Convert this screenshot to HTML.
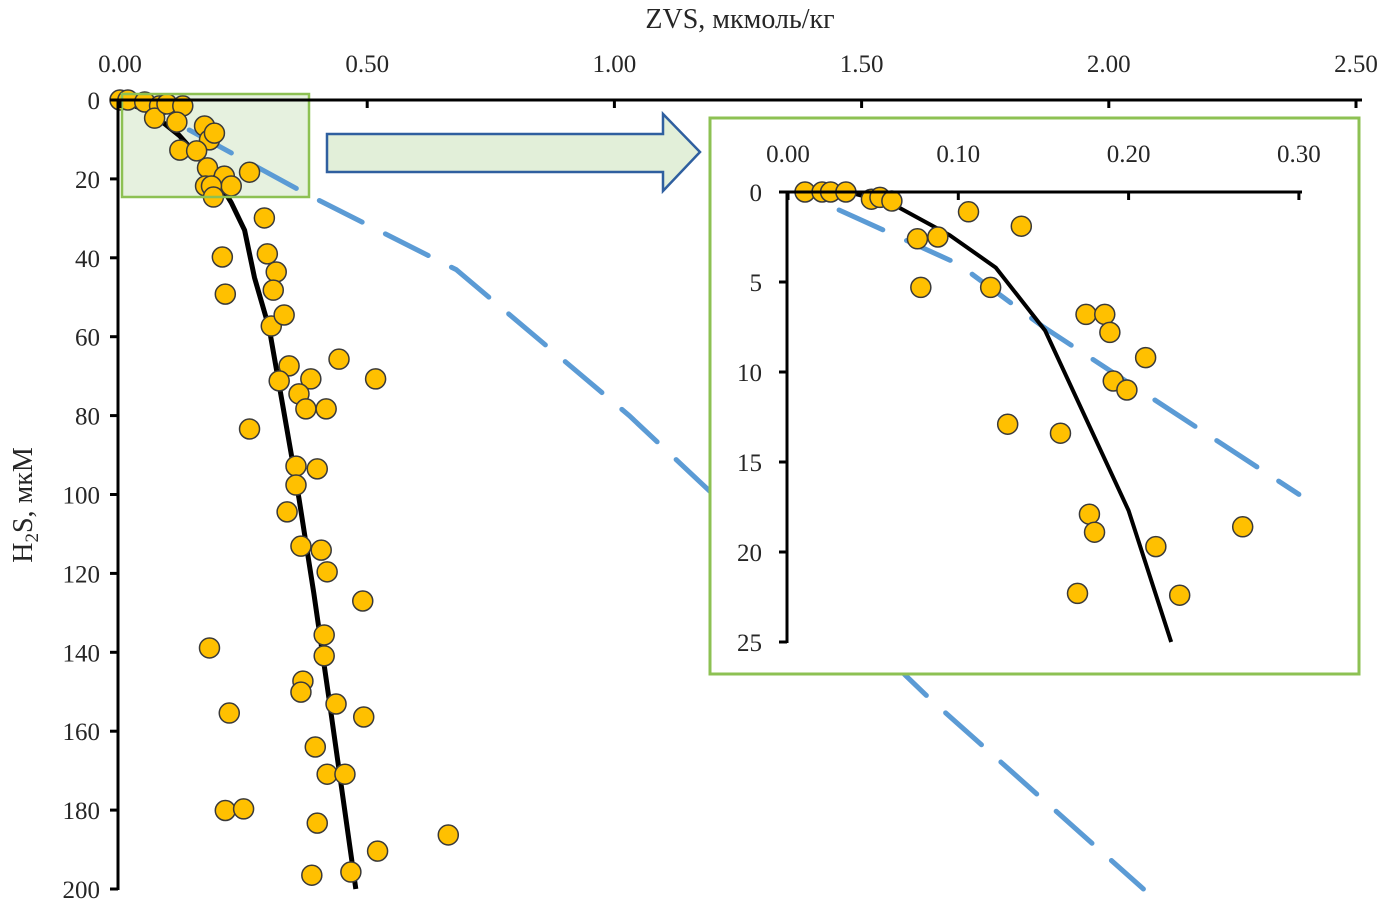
<!DOCTYPE html>
<html><head><meta charset="utf-8">
<style>
html,body{margin:0;padding:0;background:#fff;}
svg text{font-family:"Liberation Serif",serif;fill:#262626;}
</style></head>
<body>
<svg id="chart" width="1397" height="914" viewBox="0 0 1397 914" xmlns="http://www.w3.org/2000/svg">
<g id="main"></g>
<g id="inset"></g>
</svg>
<script>
// Main chart data
const mainTicksX = [0, 0.5, 1.0, 1.5, 2.0, 2.5];
const mainTickLabelsX = ["0.00","0.50","1.00","1.50","2.00","2.50"];
const mainTicksY = [0,20,40,60,80,100,120,140,160,180,200];
const mainPtsX = [0,0.016,0.05,0.08,0.07,0.095,0.127,0.115,0.171,0.181,0.191,0.121,0.155,0.177,0.211,0.173,0.225,0.262,0.185,0.189,0.292,0.207,0.298,0.316,0.31,0.213,0.306,0.332,0.342,0.443,0.517,0.322,0.386,0.362,0.376,0.417,0.262,0.356,0.399,0.356,0.338,0.366,0.407,0.419,0.491,0.413,0.413,0.37,0.366,0.437,0.493,0.181,0.221,0.395,0.419,0.455,0.213,0.25,0.399,0.664,0.521,0.388,0.467];
const mainPtsY = [0,0,0.5,1.5,4.6,1,1.5,5.6,6.6,10.1,8.4,12.7,12.9,17.2,19.3,21.8,21.8,18.3,21.8,24.6,29.9,39.8,39,43.6,48.2,49.2,57.3,54.5,67.4,65.7,70.7,71.2,70.7,74.5,78.3,78.3,83.4,92.8,93.5,97.6,104.4,113.1,114.1,119.6,127,135.6,140.9,147.3,150.1,153.1,156.4,138.9,155.4,164,170.9,170.9,180.1,179.7,183.3,186.3,190.4,196.5,195.7];
const mainFitX = [0,0.06,0.12,0.191,0.225,0.252,0.272,0.302,0.33,0.362,0.392,0.423,0.477];
const mainFitY = [0,3,9,19,26,33,45,58,78,101,125,152,200];
const mainDashX = [0.14,0.38,0.68,1.03,1.2,1.4,1.59,1.64,2.07];
const mainDashY = [7.6,24,43,80,100,122,146,152,200];
// Inset data
const insTicksX = [0,0.1,0.2,0.3];
const insTickLabelsX = ["0.00","0.10","0.20","0.30"];
const insTicksY = [0,5,10,15,20,25];
const insPtsX = [0.010,0.020,0.025,0.034,0.049,0.054,0.061,0.106,0.137,0.076,0.088,0.078,0.119,0.175,0.186,0.189,0.210,0.191,0.199,0.129,0.160,0.177,0.180,0.216,0.267,0.170,0.230];
const insPtsY = [0,0,0,0,0.4,0.3,0.5,1.1,1.9,2.6,2.5,5.3,5.3,6.8,6.8,7.8,9.2,10.5,11.0,12.9,13.4,17.9,18.9,19.7,18.6,22.3,22.4];
const insFitX = [0.035,0.06,0.095,0.122,0.151,0.2,0.225];
const insFitY = [0,0.6,2.4,4.2,7.7,17.7,25];
const insDashX = [0.03,0.1,0.15,0.3];
const insDashY = [1.0,4.0,7.5,16.8];

const NS="http://www.w3.org/2000/svg";
function mk(tag,attrs,parent){const e=document.createElementNS(NS,tag);for(const k in attrs)e.setAttribute(k,attrs[k]);parent.appendChild(e);return e;}

const mx=v=>120+v*494.4;
const my=v=>100+v*3.945;
const main=document.getElementById('main');

const hb=mk('rect',{x:122,y:94,width:187,height:103,fill:'#e2efd9','fill-opacity':0.85,stroke:'none'},main);



let d=mainDashX.map((v,i)=>(i?'L':'M')+mx(v)+' '+my(mainDashY[i])).join(' ');
const dl=mk('path',{d:d,fill:'none',stroke:'#5b9bd5','stroke-width':5,'stroke-dasharray':'48,26','stroke-linecap':'round'},main);


d=mainFitX.map((v,i)=>(i?'L':'M')+mx(v)+' '+my(mainFitY[i])).join(' ');
const fl=mk('path',{d:d,fill:'none',stroke:'#000','stroke-width':5,'stroke-linejoin':'round'},main);


mainPtsX.forEach((v,i)=>{const c=mk('circle',{cx:mx(v),cy:my(mainPtsY[i]),r:10,fill:'#ffc000',stroke:'#3a3a3a','stroke-width':1.5},main);

});

const hbb=mk('rect',{x:122,y:94,width:187,height:103,fill:'none',stroke:'#8dc153','stroke-width':2.5},main);



const xa=mk('line',{x1:118,y1:100,x2:1362,y2:100,stroke:'#000','stroke-width':3},main);


const ya=mk('line',{x1:118,y1:99,x2:118,y2:890,stroke:'#000','stroke-width':3},main);


mainTicksX.forEach((v,i)=>{
 mk('line',{x1:mx(v),y1:100,x2:mx(v),y2:108,stroke:'#000','stroke-width':3},main);
 const t=mk('text',{x:mx(v),y:72,'text-anchor':'middle','font-size':25},main);t.textContent=mainTickLabelsX[i];
 
 
});
mainTicksY.forEach(v=>{
 mk('line',{x1:110,y1:my(v),x2:118,y2:my(v),stroke:'#000','stroke-width':3},main);
 const t=mk('text',{x:100,y:my(v)+9,'text-anchor':'end','font-size':25},main);t.textContent=v;
 
 
});
const xt=mk('text',{x:740,y:28,'text-anchor':'middle','font-size':28},main);xt.textContent='ZVS, мкмоль/кг';


const yt=mk('text',{x:0,y:0,'text-anchor':'middle','font-size':28,transform:'translate(32,505) rotate(-90)'},main);
yt.innerHTML='H<tspan font-size="19" dy="6">2</tspan><tspan dy="-6">S, мкМ</tspan>';



const ar=mk('path',{d:'M327 134 L663 134 L663 114 L700 152 L663 191 L663 172 L327 172 Z',fill:'#e2efd9',stroke:'#2f5f9f','stroke-width':2.5},main);



const ins=document.getElementById('inset');
const ix=v=>788+v*1703;
const iy=v=>192+v*18;
const ib=mk('rect',{x:710,y:118,width:649,height:556,fill:'#fff',stroke:'#8dc153','stroke-width':3},ins);


mk('clipPath',{id:'ic'},ins);
mk('rect',{x:712,y:120,width:645,height:552},document.getElementById('ic'));
const g=mk('g',{'clip-path':'url(#ic)'},ins);
d=insDashX.map((v,i)=>(i?'L':'M')+ix(v)+' '+iy(insDashY[i])).join(' ');
const idl=mk('path',{d:d,fill:'none',stroke:'#5b9bd5','stroke-width':5,'stroke-dasharray':'48,26','stroke-linecap':'round'},g);


d=insFitX.map((v,i)=>(i?'L':'M')+ix(v)+' '+iy(insFitY[i])).join(' ');
const ifl=mk('path',{d:d,fill:'none',stroke:'#000','stroke-width':4,'stroke-linejoin':'round'},g);


insPtsX.forEach((v,i)=>{const c=mk('circle',{cx:ix(v),cy:iy(insPtsY[i]),r:10,fill:'#ffc000',stroke:'#3a3a3a','stroke-width':1.5},g);

});
const ixa=mk('line',{x1:786,y1:192,x2:1302,y2:192,stroke:'#000','stroke-width':3},ins);


const iya=mk('line',{x1:787,y1:191,x2:787,y2:643,stroke:'#000','stroke-width':3},ins);


insTicksX.forEach((v,i)=>{
 mk('line',{x1:ix(v),y1:192,x2:ix(v),y2:200,stroke:'#000','stroke-width':3},ins);
 const t=mk('text',{x:ix(v),y:162,'text-anchor':'middle','font-size':25},ins);t.textContent=insTickLabelsX[i];
 
 
});
insTicksY.forEach(v=>{
 mk('line',{x1:779,y1:iy(v),x2:787,y2:iy(v),stroke:'#000','stroke-width':3},ins);
 const t=mk('text',{x:762,y:iy(v)+9,'text-anchor':'end','font-size':25},ins);t.textContent=v;
 
 
});
</script>
</body></html>
